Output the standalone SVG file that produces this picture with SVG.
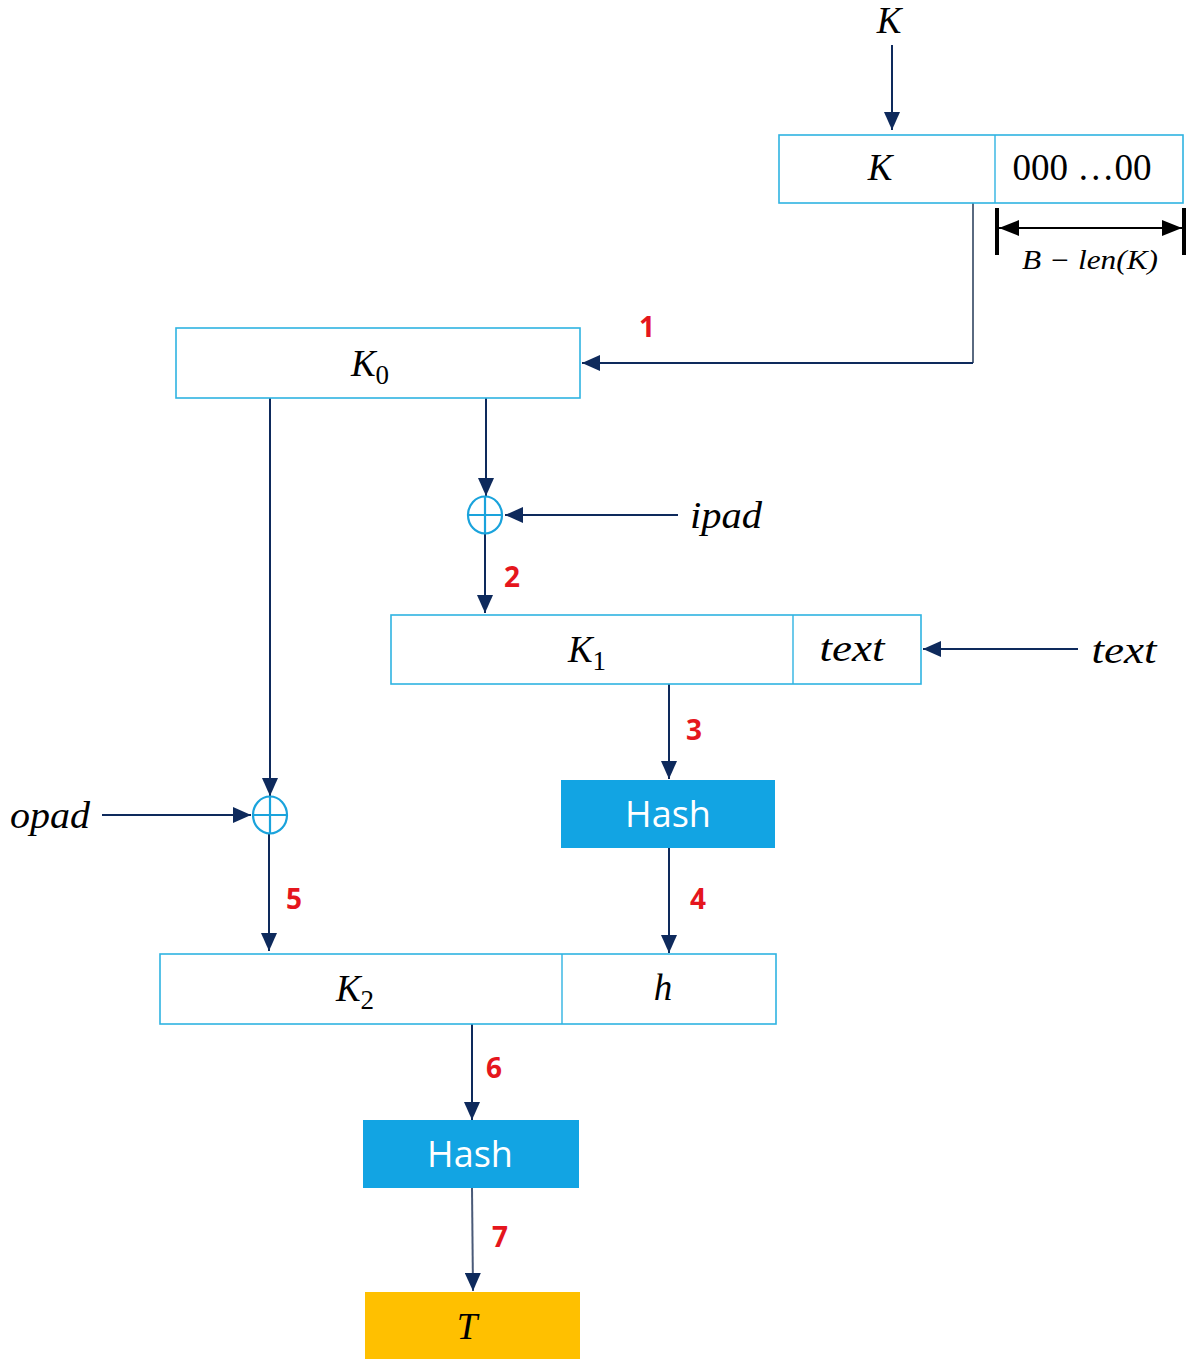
<svg xmlns="http://www.w3.org/2000/svg" width="1192" height="1359" viewBox="0 0 1192 1359">
<style>
.box{fill:#fff;stroke:#2FB3E2;stroke-width:1.6}
.div{stroke:#2FB3E2;stroke-width:1.4}
.hash{fill:#12A4E3}
.out{fill:#FFC000}
.m{font-family:"Liberation Serif","DejaVu Serif",serif;font-style:italic;font-size:37px;fill:#000;text-anchor:middle}
.up{font-family:"Liberation Serif","DejaVu Serif",serif;font-size:37px;fill:#000;text-anchor:middle}
.sub{font-style:normal;font-size:27px}
.h{font-family:"Open Sans","Noto Sans",sans-serif;font-size:36px;fill:#fff;text-anchor:middle}
.n{font-family:"Open Sans","Noto Sans",sans-serif;font-weight:bold;font-size:28px;fill:#E5161D;text-anchor:middle}
.c{fill:none;stroke:#0E2A5C;stroke-width:2}
.xor{fill:none;stroke:#1AA3DC;stroke-width:2.2}
</style>
<defs>
<marker id="a" markerUnits="userSpaceOnUse" viewBox="0 0 18 16" refX="18" refY="8" markerWidth="18" markerHeight="16" orient="auto">
<path d="M0,0 L18,8 L0,16 Z" fill="#0E2A5C"/>
</marker>
<marker id="b" markerUnits="userSpaceOnUse" viewBox="0 0 20 16" refX="20" refY="8" markerWidth="20" markerHeight="16" orient="auto-start-reverse">
<path d="M0,0 L20,8 L0,16 Z" fill="#000"/>
</marker>
</defs>

<g id="connectors">
<line class="c" x1="892" y1="45" x2="892" y2="130" marker-end="url(#a)"/>
<path d="M973,203 V363" fill="none" stroke="#5A6A80" stroke-width="2"/>
<path class="c" d="M973,363 H582" marker-end="url(#a)"/>
<line class="c" x1="486" y1="398" x2="486" y2="496" marker-end="url(#a)"/>
<line class="c" x1="678" y1="515" x2="505" y2="515" marker-end="url(#a)"/>
<line class="c" x1="485" y1="534" x2="485" y2="613" marker-end="url(#a)"/>
<line class="c" x1="1078" y1="649" x2="923" y2="649" marker-end="url(#a)"/>
<line class="c" x1="669" y1="684" x2="669" y2="779" marker-end="url(#a)"/>
<line class="c" x1="669" y1="848" x2="669" y2="953" marker-end="url(#a)"/>
<line class="c" x1="270" y1="398" x2="270" y2="796" marker-end="url(#a)"/>
<line class="c" x1="102" y1="815" x2="251" y2="815" marker-end="url(#a)"/>
<line class="c" x1="269" y1="834" x2="269" y2="951" marker-end="url(#a)"/>
<line class="c" x1="472" y1="1024" x2="472" y2="1120" marker-end="url(#a)"/>
<line x1="472" y1="1188" x2="473" y2="1291" stroke="#4A5A78" stroke-width="2" marker-end="url(#a)"/>
<g id="dimension">
<line x1="997" y1="208" x2="997" y2="255" stroke="#000" stroke-width="4"/>
<line x1="1184" y1="208" x2="1184" y2="255" stroke="#000" stroke-width="4"/>
<line x1="999" y1="228" x2="1182" y2="228" stroke="#000" stroke-width="2" marker-start="url(#b)" marker-end="url(#b)"/>
<text x="1090" y="269" font-family="Liberation Serif,DejaVu Serif,serif" font-style="italic" font-size="27" text-anchor="middle" textLength="136" lengthAdjust="spacingAndGlyphs">B − len(K)</text>
</g>
<text class="n" x="647" y="337">1</text>
<text class="n" x="512" y="587">2</text>
<text class="n" x="694" y="740">3</text>
<text class="n" x="698" y="909">4</text>
<text class="n" x="294" y="909">5</text>
<text class="n" x="494" y="1078">6</text>
<text class="n" x="500" y="1247">7</text>
</g>

<g id="input-K"><text class="m" x="889" y="33">K</text></g>

<g id="padded-key">
<rect class="box" x="779" y="135" width="404" height="68"/>
<line class="div" x1="995" y1="135" x2="995" y2="203"/>
<text class="m" x="880" y="180">K</text>
<text class="up" x="1082" y="180" textLength="139" lengthAdjust="spacingAndGlyphs">000 …00</text>
</g>

<g id="K0">
<rect class="box" x="176" y="328" width="404" height="70"/>
<text class="m" x="370" y="376">K<tspan class="sub" dy="8">0</tspan></text>
</g>

<g id="xor-ipad">
<ellipse class="xor" cx="485" cy="515" rx="17" ry="18.5"/>
<line class="xor" x1="468" y1="515" x2="502" y2="515"/>
<line class="xor" x1="485" y1="496.5" x2="485" y2="533.5"/>
</g>
<g id="ipad"><text class="m" x="726" y="528" textLength="72" lengthAdjust="spacingAndGlyphs">ipad</text></g>

<g id="K1-text">
<rect class="box" x="391" y="615" width="530" height="69"/>
<line class="div" x1="793" y1="615" x2="793" y2="684"/>
<text class="m" x="587" y="662">K<tspan class="sub" dy="8">1</tspan></text>
<text class="m" x="852" y="661" textLength="65" lengthAdjust="spacingAndGlyphs">text</text>
</g>
<g id="text-input"><text class="m" x="1124" y="663" textLength="65" lengthAdjust="spacingAndGlyphs">text</text></g>

<g id="hash1">
<rect class="hash" x="561" y="780" width="214" height="68"/>
<text class="h" x="668" y="827">Hash</text>
</g>

<g id="xor-opad">
<ellipse class="xor" cx="270" cy="815" rx="17" ry="18.5"/>
<line class="xor" x1="253" y1="815" x2="287" y2="815"/>
<line class="xor" x1="270" y1="796.5" x2="270" y2="833.5"/>
</g>
<g id="opad"><text class="m" x="50" y="828" textLength="80" lengthAdjust="spacingAndGlyphs">opad</text></g>

<g id="K2-h">
<rect class="box" x="160" y="954" width="616" height="70"/>
<line class="div" x1="562" y1="954" x2="562" y2="1024"/>
<text class="m" x="355" y="1001">K<tspan class="sub" dy="8">2</tspan></text>
<text class="m" x="663" y="1000">h</text>
</g>

<g id="hash2">
<rect class="hash" x="363" y="1120" width="216" height="68"/>
<text class="h" x="470" y="1167">Hash</text>
</g>

<g id="T">
<rect class="out" x="365" y="1292" width="215" height="67"/>
<text class="m" x="467" y="1339">T</text>
</g>
</svg>
